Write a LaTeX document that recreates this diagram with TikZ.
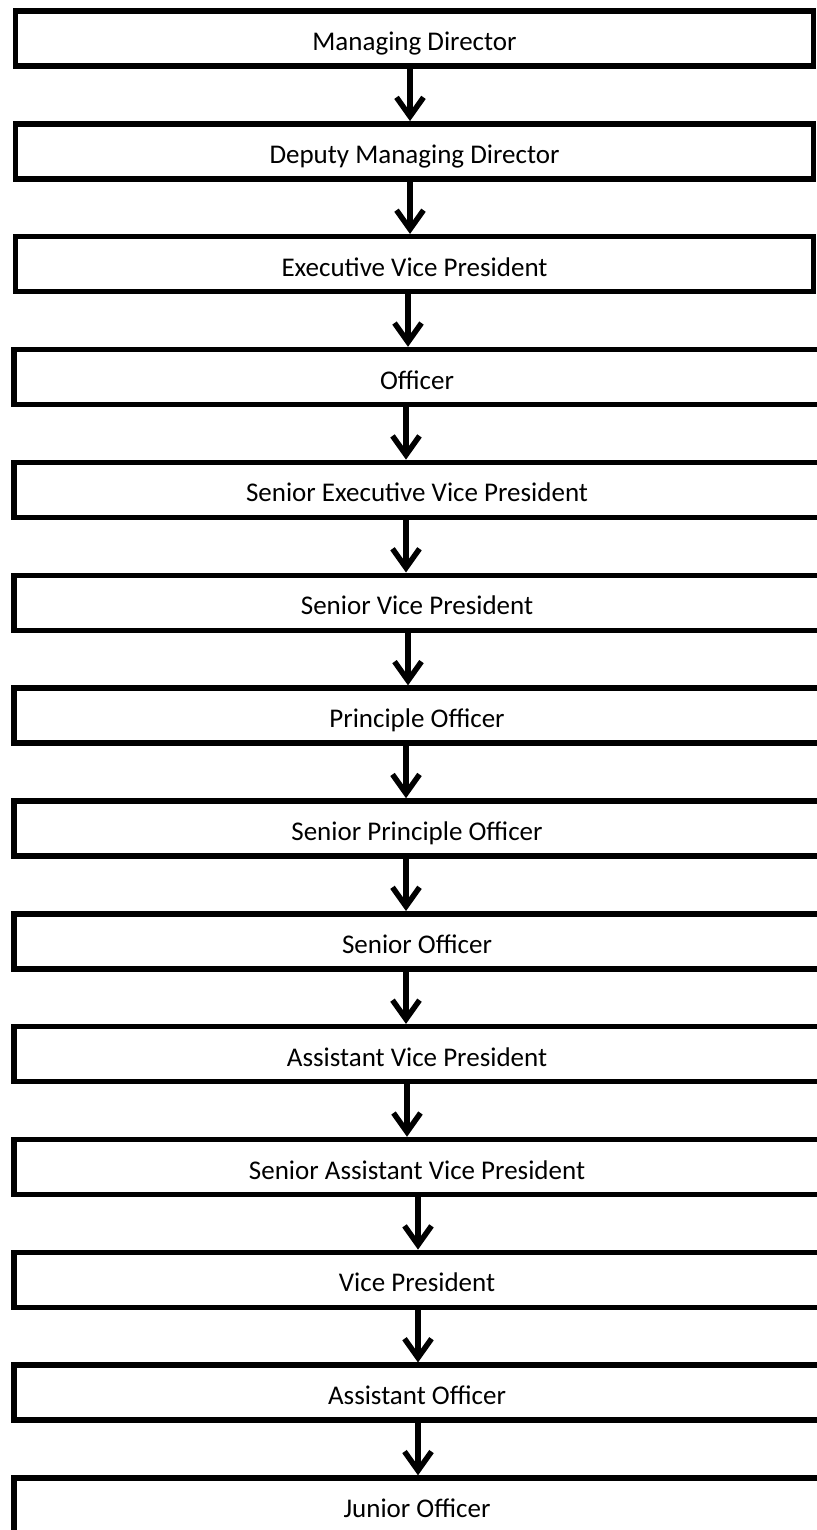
\documentclass[tikz,border=0pt]{standalone}
\usepackage{fontspec}
\setmainfont{Carlito}
\usetikzlibrary{arrows.meta}

\begin{document}
\begin{tikzpicture}[x=1pt,y=-1pt,
  rank/.style={draw, line width=5.5pt, minimum width=798pt, minimum height=55pt,
    inner sep=0pt, text height=24pt, text depth=0pt, font=\fontsize{27}{30}\selectfont},
  widerank/.style={rank, minimum width=806pt},
  flow/.style={line width=5.5pt, -{Straight Barb[length=19pt,width=27pt]}}]
\useasboundingbox (0,0) rectangle (816,1530);
\node[rank] (r0) at (414.5,38.5){Managing Director};
\node[rank] (r1) at (414.5,151.35){Deputy Managing Director};
\draw[flow]([xshift=-4.5pt]r0.south) -- ([xshift=-4.5pt]r1.north);
\node[rank] (r2) at (414.5,264.2){Executive Vice President};
\draw[flow]([xshift=-4.5pt]r1.south) -- ([xshift=-4.5pt]r2.north);
\node[widerank] (r3) at (417,377.05){Officer};
\draw[flow]([xshift=-6.5pt]r2.south) -- ([xshift=-9pt]r3.north);
\node[widerank] (r4) at (417,489.9){Senior Executive Vice President};
\draw[flow]([xshift=-11pt]r3.south) -- ([xshift=-11pt]r4.north);
\node[widerank] (r5) at (417,602.75){Senior Vice President};
\draw[flow]([xshift=-11pt]r4.south) -- ([xshift=-11pt]r5.north);
\node[widerank] (r6) at (417,715.6){Principle Officer};
\draw[flow]([xshift=-9pt]r5.south) -- ([xshift=-9pt]r6.north);
\node[widerank] (r7) at (417,828.45){Senior Principle Officer};
\draw[flow]([xshift=-11pt]r6.south) -- ([xshift=-11pt]r7.north);
\node[widerank] (r8) at (417,941.3){Senior Officer};
\draw[flow]([xshift=-11pt]r7.south) -- ([xshift=-11pt]r8.north);
\node[widerank] (r9) at (417,1054.15){Assistant Vice President};
\draw[flow]([xshift=-11pt]r8.south) -- ([xshift=-11pt]r9.north);
\node[widerank] (r10) at (417,1167){Senior Assistant Vice President};
\draw[flow]([xshift=-10pt]r9.south) -- ([xshift=-10pt]r10.north);
\node[widerank] (r11) at (417,1279.85){Vice President};
\draw[flow]([xshift=1pt]r10.south) -- ([xshift=1pt]r11.north);
\node[widerank] (r12) at (417,1392.7){Assistant Officer};
\draw[flow]([xshift=1pt]r11.south) -- ([xshift=1pt]r12.north);
\node[widerank] (r13) at (417,1505.55){Junior Officer};
\draw[flow]([xshift=1pt]r12.south) -- ([xshift=1pt]r13.north);
\end{tikzpicture}
\end{document}
